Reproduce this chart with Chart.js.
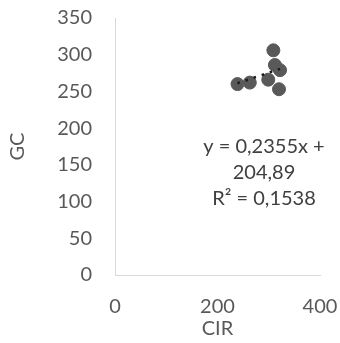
<!DOCTYPE html>
<html>
<head>
<meta charset="utf-8">
<script src="https://cdn.jsdelivr.net/npm/chart.js@4"></script>
<style>
  html, body { margin: 0; padding: 0; background: #fff; }
  #wrap { width: 340px; height: 343px; }
</style>
</head>
<body>
<div id="wrap"><canvas id="chart" width="340" height="343"></canvas></div>
<script>
// values
const cir = [309, 312, 322, 299, 320, 239, 263];
const gc = [306, 286, 279, 266, 253, 260, 262];
const xTicks = [0, 200, 400];
const yTicks = [0, 50, 100, 150, 200, 250, 300, 350];
const slope = 0.2355;
const intercept = 204.89;
const eqLines = ["y = 0,2355x +", "204,89", "R\u00b2 = 0,1538"];

const FONT = "Lato, 'Open Sans', sans-serif";
const GREY = "#595959";

const points = cir.map((x, i) => ({ x: x, y: gc[i] }));
const xMin = Math.min(...cir), xMax = Math.max(...cir);
const trend = [xMin, xMax].map(x => ({ x: x, y: slope * x + intercept }));

// equation label, placed like the Excel text box
const eqLabel = {
  id: "eqLabel",
  afterDatasetsDraw(chart) {
    const ctx = chart.ctx;
    ctx.save();
    ctx.font = "20px " + FONT;
    ctx.fillStyle = "#404040";
    ctx.textAlign = "center";
    ctx.textBaseline = "middle";
    eqLines.forEach((t, i) => ctx.fillText(t, 264, 147 + i * 26));
    ctx.restore();
  }
};

new Chart(document.getElementById("chart"), {
  type: "scatter",
  data: {
    datasets: [
      {
        type: "line",
        data: trend,
        borderColor: "#1a1a1a",
        borderWidth: 2.5,
        borderDash: [2.5, 6],
        pointRadius: 0,
        fill: false
      },
      {
        data: points,
        backgroundColor: GREY,
        borderColor: GREY,
        pointRadius: 6.5,
        pointHoverRadius: 6.5
      }
    ]
  },
  options: {
    responsive: false,
    animation: false,
    layout: { padding: { left: 0, right: 20, top: 18, bottom: 0 } },
    plugins: { legend: { display: false }, tooltip: { enabled: false } },
    scales: {
      x: {
        type: "linear",
        min: 0,
        max: 400,
        afterBuildTicks: s => { s.ticks = xTicks.map(v => ({ value: v })); },
        afterFit: s => { s.height = 68; s.paddingLeft = 0; s.paddingRight = 0; },
        grid: { display: false, drawTicks: false },
        border: { display: true, color: "#d9d9d9" },
        ticks: { padding: 20, color: GREY, font: { family: FONT, size: 20 } },
        title: { display: true, text: "CIR", color: GREY, padding: { top: 0, bottom: 2 }, font: { family: FONT, size: 20 } }
      },
      y: {
        min: 0,
        max: 350,
        afterBuildTicks: s => { s.ticks = yTicks.map(v => ({ value: v })); },
        afterFit: s => { s.width = 115; s.paddingTop = 0; s.paddingBottom = 0; },
        grid: { display: false, drawTicks: false },
        border: { display: true, color: "#d9d9d9" },
        ticks: { padding: 23, color: GREY, font: { family: FONT, size: 20 } },
        title: { display: true, text: "GC", color: GREY, padding: { top: 6, bottom: 0 }, font: { family: FONT, size: 20 } }
      }
    }
  },
  plugins: [eqLabel]
});
</script>
</body>
</html>
